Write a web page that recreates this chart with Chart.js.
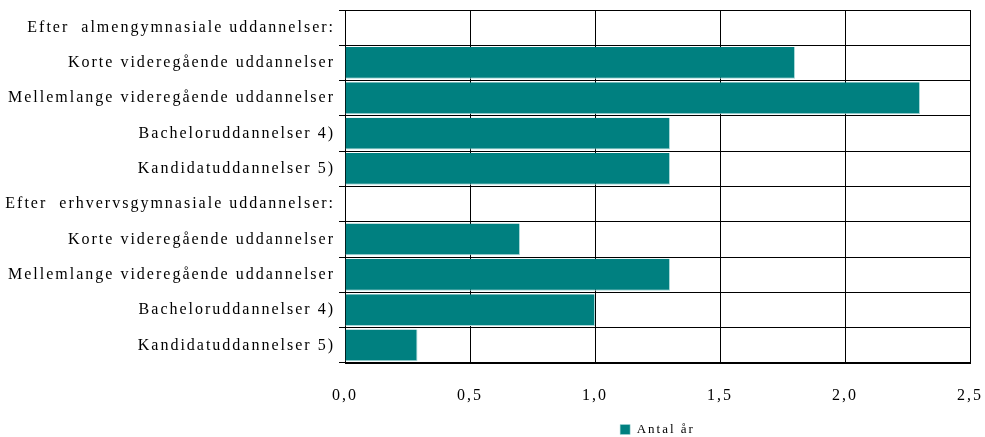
<!DOCTYPE html>
<html>
<head>
<meta charset="utf-8">
<script src="https://cdn.jsdelivr.net/npm/chart.js@4"></script>
<style>
html,body{margin:0;padding:0;background:#fff;}
#wrap{width:985px;height:437px;}
</style>
</head>
<body>
<div id="wrap"><canvas id="c" width="985" height="437"></canvas></div>
<script>
const categories = [
  "Efter  almengymnasiale uddannelser:",
  "Korte videregående uddannelser",
  "Mellemlange videregående uddannelser",
  "Bacheloruddannelser 4)",
  "Kandidatuddannelser 5)",
  "Efter  erhvervsgymnasiale uddannelser:",
  "Korte videregående uddannelser",
  "Mellemlange videregående uddannelser",
  "Bacheloruddannelser 4)",
  "Kandidatuddannelser 5)"
];
const antalAar = [null, 1.8, 2.3, 1.3, 1.3, null, 0.7, 1.3, 1.0, 0.29];
const seriesName = "Antal år";
const xTicks = [0, 0.5, 1.0, 1.5, 2.0, 2.5];

const spacing = {
  id: 'spacing',
  beforeLayout(chart){ chart.ctx.letterSpacing = '2px'; },
  beforeDraw(chart){ chart.ctx.letterSpacing = '2px'; }
};

const FONT = { family: "'Liberation Serif', serif", size: 16 };

new Chart(document.getElementById('c'), {
  type: 'bar',
  data: {
    labels: categories,
    datasets: [{
      label: seriesName,
      data: antalAar,
      backgroundColor: '#008080',
      borderColor: '#a8d8d8',
      borderWidth: { right: 1, bottom: 1, top: 0, left: 0 },
      borderSkipped: false,
      barPercentage: 0.9,
      categoryPercentage: 1.0
    }]
  },
  options: {
    indexAxis: 'y',
    responsive: false,
    animation: false,
    devicePixelRatio: 1,
    layout: { padding: { top: 10, right: 15, left: 0, bottom: -9 } },
    plugins: {
      legend: {
        position: 'bottom',
        fullSize: false,
        labels: {
          color: '#000',
          font: { family: "'Liberation Serif', serif", size: 13 },
          boxWidth: 10, boxHeight: 10, padding: 1
        }
      },
      tooltip: { enabled: false }
    },
    scales: {
      x: {
        min: 0, max: 2.5,
        afterBuildTicks(scale){ scale.ticks = xTicks.map(v => ({ value: v })); },
        afterFit(scale){ scale.height = 59; scale.paddingRight = 0; scale.paddingLeft = 0; },
        ticks: {
          color: '#000', font: FONT, padding: 23,
          callback: v => v.toFixed(1).replace('.', ',')
        },
        grid: { color: '#000', lineWidth: 1, drawTicks: false, tickLength: 0 },
        border: { color: '#000', width: 1 }
      },
      y: {
        afterFit(scale){ scale.width = 345; scale.paddingTop = 0; scale.paddingBottom = 0; },
        ticks: { color: '#000', font: FONT, padding: 4, autoSkip: false },
        grid: { color: '#000', lineWidth: 1, offset: true, drawTicks: true, tickLength: 6 },
        border: { color: '#000', width: 1 }
      }
    }
  },
  plugins: [spacing]
});
</script>
</body>
</html>
